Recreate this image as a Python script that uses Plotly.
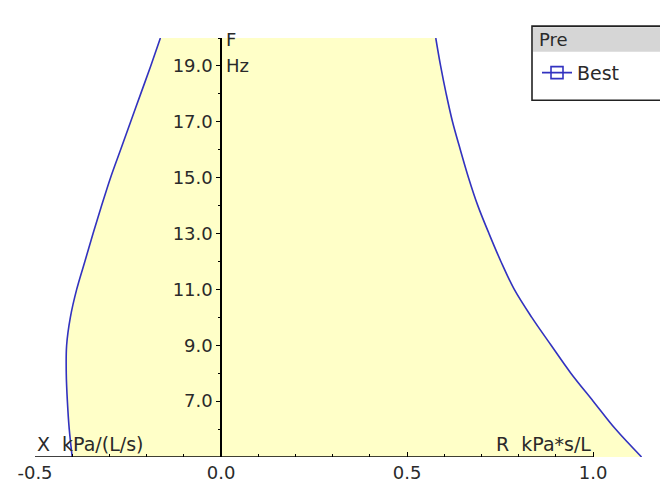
import plotly.graph_objects as go

# ---- data ----
freq = [5, 6, 7, 8, 9, 10, 11, 12, 13, 14, 15, 16, 17, 18, 19, 20]
x_react = [-0.400, -0.408, -0.413, -0.416, -0.415, -0.405, -0.388, -0.366,
           -0.344, -0.321, -0.297, -0.270, -0.243, -0.216, -0.189, -0.163]
r_resist = [1.130, 1.060, 1.000, 0.940, 0.887, 0.835, 0.788, 0.752,
            0.720, 0.690, 0.665, 0.643, 0.622, 0.605, 0.590, 0.577]
x_ticks = [-0.5, 0.0, 0.5, 1.0]
x_minor = [-0.4, -0.3, -0.2, -0.1, 0.1, 0.2, 0.3, 0.4, 0.6, 0.7, 0.8, 0.9]
y_ticks = [7, 9, 11, 13, 15, 17, 19]
y_minor = [6, 8, 10, 12, 14, 16, 18, 20]
series_name = "Best"
legend_title = "Pre"

LINE = "#3232c0"
FILL = "#ffffc8"
FONT = "DejaVu Sans, Verdana, sans-serif"
TXT = "#2a2a2a"

fig = go.Figure()

# yellow band between the two curves
fig.add_trace(go.Scatter(
    x=x_react + r_resist[::-1], y=freq + freq[::-1],
    fill="toself", fillcolor=FILL, mode="none", showlegend=False,
    hoverinfo="skip"))

fig.add_trace(go.Scatter(x=x_react, y=freq, mode="lines", line=dict(color=LINE, width=1.6, shape="spline"),
                         showlegend=False))
fig.add_trace(go.Scatter(x=r_resist, y=freq, mode="lines", line=dict(color=LINE, width=1.6, shape="spline"),
                         showlegend=False))
# legend entry
fig.add_trace(go.Scatter(x=[None], y=[None], mode="lines+markers", name=series_name,
                         line=dict(color=LINE, width=1.6),
                         marker=dict(symbol="square-open", size=12, color=LINE, line=dict(width=1.6))))

xmin, xmax = -0.5, 1.15
ymin, ymax = 5, 20

W, H = 660, 494
ml, mr, mt, mb = 35, 11, 38, 32
pw = W - ml - mr
ph = H - mt - mb


def px(xp):
    return (xp - ml) / pw


def py(yp):
    return (H - mb - yp) / ph


fig.update_layout(
    width=W, height=H,
    margin=dict(l=ml, r=mr, t=mt, b=mb, pad=0),
    paper_bgcolor="white", plot_bgcolor="white",
    font=dict(family=FONT, size=18, color=TXT),
    xaxis=dict(range=[xmin, xmax], showgrid=False, zeroline=False, showline=False,
               tickmode="array", tickvals=x_ticks, ticktext=[f"{v:.1f}" for v in x_ticks],
               ticks="inside", ticklen=5, tickwidth=1.2, tickcolor="black",
               ticklabelstandoff=3,
               tickfont=dict(size=18, color=TXT),
               minor=dict(tickmode="array", tickvals=x_minor, ticks="inside", ticklen=3,
                          tickcolor="black", tickwidth=1)),
    yaxis=dict(range=[ymin, ymax], showgrid=False, zeroline=False,
               anchor="free", position=(0 - xmin) / (xmax - xmin),
               showline=True, linecolor="black", linewidth=1.5,
               tickmode="array", tickvals=y_ticks, ticktext=[f"{v:.1f}" for v in y_ticks],
               ticks="outside", ticklen=4, tickwidth=1.2, tickcolor="black",
               tickfont=dict(size=18, color=TXT),
               minor=dict(tickmode="array", tickvals=y_minor, ticks="outside", ticklen=2,
                          tickcolor="black", tickwidth=1)),
    showlegend=True,
    legend=dict(x=px(537), y=py(54), xanchor="left", yanchor="top",
                bgcolor="rgba(0,0,0,0)", borderwidth=0,
                font=dict(size=19, color=TXT), itemwidth=30, tracegroupgap=0),
)

# x-axis line from first to last tick
fig.add_shape(type="line", xref="x", yref="y", x0=x_ticks[0], x1=x_ticks[-1], y0=ymin, y1=ymin,
              line=dict(color="black", width=1.5))

# legend box
fig.add_shape(type="rect", xref="paper", yref="paper", x0=px(532), x1=px(720), y0=py(101), y1=py(26),
              line=dict(color="#222", width=1.6), fillcolor="rgba(0,0,0,0)", layer="above")
fig.add_shape(type="rect", xref="paper", yref="paper", x0=px(533), x1=px(720), y0=py(52), y1=py(27),
              line=dict(width=0), fillcolor="#d6d6d6", layer="below")
fig.add_annotation(text=legend_title, xref="paper", yref="paper", x=px(537), y=py(40),
                   xanchor="left", yanchor="middle", showarrow=False, font=dict(size=18, color=TXT))

# axis titles
fig.add_annotation(text="X  kPa/(L/s)", xref="x", yref="y", x=x_ticks[0], y=ymin,
                   xanchor="left", yanchor="bottom", yshift=0, showarrow=False,
                   font=dict(size=19, color=TXT))
fig.add_annotation(text="R  kPa*s/L", xref="x", yref="y", x=x_ticks[-1], y=ymin,
                   xanchor="right", yanchor="bottom", yshift=0, showarrow=False,
                   font=dict(size=19, color=TXT))
fig.add_annotation(text="F", xref="x", yref="y", x=0, y=ymax, xanchor="left", yanchor="middle",
                   xshift=3, yshift=-1, showarrow=False, font=dict(size=18, color=TXT))
fig.add_annotation(text="Hz", xref="x", yref="y", x=0, y=y_ticks[-1], xanchor="left", yanchor="middle",
                   xshift=3, showarrow=False, font=dict(size=18, color=TXT))

fig.write_html("out.html")
